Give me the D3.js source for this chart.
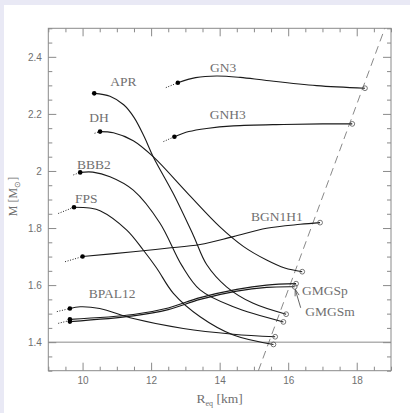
<!DOCTYPE html>
<html>
<head>
<meta charset="utf-8">
<script src="https://cdn.jsdelivr.net/npm/d3@7"></script>
<style>
  html, body { margin: 0; padding: 0; background: #fff; }
  svg { display: block; }
</style>
</head>
<body>
<svg id="chart" width="410" height="413"></svg>
<script>
// Equation-of-state sequences: equatorial radius [km] vs gravitational mass [Msun]
const APR    = [[10.34,2.272],[10.80,2.262],[11.20,2.232],[11.50,2.188],[11.80,2.120],[12.06,2.050],[12.65,1.920],[13.23,1.775],[13.62,1.672],[14.20,1.594],[14.98,1.536],[15.94,1.498]];
const DH     = [[10.51,2.138],[10.90,2.134],[11.48,2.106],[12.06,2.050],[13.04,1.925],[14.00,1.805],[14.70,1.735],[15.37,1.688],[15.90,1.660],[16.41,1.647]];
const BBB2   = [[9.93,1.995],[10.30,1.996],[10.80,1.980],[11.48,1.933],[12.26,1.817],[12.89,1.670],[13.43,1.583],[14.40,1.524],[15.86,1.471]];
const FPS    = [[9.75,1.873],[10.20,1.870],[10.51,1.861],[11.29,1.793],[11.77,1.723],[12.16,1.660],[12.65,1.571],[13.43,1.489],[14.40,1.425],[15.57,1.392]];
const BPAL12 = [[9.63,1.518],[9.93,1.524],[10.50,1.518],[11.48,1.483],[12.94,1.448],[14.40,1.428],[15.62,1.419]];
const GN3    = [[12.78,2.309],[13.30,2.327],[13.91,2.333],[14.60,2.328],[15.37,2.317],[16.83,2.299],[18.24,2.290]];
const GNH3   = [[12.68,2.120],[13.10,2.138],[13.62,2.149],[14.40,2.158],[15.86,2.163],[17.00,2.165],[17.87,2.165]];
const BGN1H1 = [[10.00,1.700],[11.48,1.717],[12.45,1.729],[13.43,1.742],[14.40,1.770],[15.37,1.799],[16.35,1.813],[16.93,1.819]];
const GMGSp  = [[9.63,1.480],[11.48,1.497],[12.50,1.520],[13.43,1.556],[14.50,1.585],[15.37,1.600],[16.23,1.605]];
const GMGSm  = [[9.63,1.472],[11.48,1.492],[12.50,1.514],[13.43,1.550],[14.50,1.579],[15.37,1.592],[16.19,1.594]];

// Short dotted continuations toward the unstable branch: [from, to]
const stubs = [
  [[12.43,2.292],[12.78,2.309]],
  [[12.36,2.103],[12.68,2.120]],
  [[10.35,2.132],[10.51,2.138]],
  [[9.73,1.986],[9.93,1.995]],
  [[9.29,1.851],[9.75,1.873]],
  [[9.49,1.682],[10.00,1.700]],
  [[9.25,1.507],[9.63,1.518]],
  [[9.29,1.466],[9.63,1.476]]
];

const seriesList = [APR, DH, BBB2, FPS, BPAL12, GN3, GNH3, BGN1H1, GMGSp, GMGSm];

// Curve names with the centre of each label's baseline (R, M)
const labelNames = ["APR", "DH", "BBB2", "FPS", "BPAL12", "GN3", "GNH3", "BGN1H1", "GMGSp", "GMGSm"];
const labelPos   = [[11.19,2.298],[10.48,2.173],[10.33,2.007],[10.11,1.887],[10.86,1.556],[14.10,2.348],[14.24,2.181],[15.67,1.826],[17.07,1.564],[17.22,1.492]];

// Mass-shedding limit (dashed) and the 1.4 Msun reference
const sheddingLine = [[15.13,1.30],[18.82,2.50]];
const refMass = 1.4;

const xMajor = [10, 12, 14, 16, 18];
const yMajor = [1.4, 1.6, 1.8, 2.0, 2.2, 2.4];
const yTickLabels = ["1.4", "1.6", "1.8", "2", "2.2", "2.4"];

const svg = d3.select("#chart");
const W = 410, H = 413;
const m = { left: 48.3, right: 391, top: 28.3, bottom: 370.7 };

svg.append("rect").attr("width", W).attr("height", H).attr("fill", "#e9e9f5");
svg.append("rect").attr("x", 4).attr("y", 5).attr("width", W - 4).attr("height", H - 5).attr("fill", "#fff");

const x = d3.scaleLinear().domain([9, 19]).range([m.left, m.right]);
const y = d3.scaleLinear().domain([1.3, 2.5]).range([m.bottom, m.top]);

const axisColor = "#8a8a8a";
const textColor = "#707070";
const xMinor = d3.range(9, 19.001, 0.5).filter(v => xMajor.indexOf(v) < 0);
const yMinor = d3.range(1.3, 2.5001, 0.05).map(v => +v.toFixed(2)).filter(v => !yMajor.some(t => Math.abs(t - v) < 1e-6));

function styleAxis(g) {
  g.select(".domain").remove();
  g.selectAll(".tick line").attr("stroke", axisColor).attr("stroke-width", 1);
  g.selectAll(".tick text").attr("fill", textColor).attr("font-family", "Liberation Sans").attr("font-size", 10);
}

// bottom
svg.append("g").attr("transform", `translate(0,${m.bottom})`)
  .call(d3.axisBottom(x).tickValues(xMajor).tickSize(-8).tickPadding(6.5).tickFormat(d3.format("d"))).call(styleAxis);
svg.append("g").attr("transform", `translate(0,${m.bottom})`)
  .call(d3.axisBottom(x).tickValues(xMinor).tickSize(-4).tickFormat("")).call(styleAxis);
// top
svg.append("g").attr("transform", `translate(0,${m.top})`)
  .call(d3.axisTop(x).tickValues(xMajor).tickSize(-8).tickFormat("")).call(styleAxis);
svg.append("g").attr("transform", `translate(0,${m.top})`)
  .call(d3.axisTop(x).tickValues(xMinor).tickSize(-4).tickFormat("")).call(styleAxis);
// left
svg.append("g").attr("transform", `translate(${m.left},0)`)
  .call(d3.axisLeft(y).tickValues(yMajor).tickSize(-8).tickPadding(6.5).tickFormat((d, i) => yTickLabels[i])).call(styleAxis);
svg.append("g").attr("transform", `translate(${m.left},0)`)
  .call(d3.axisLeft(y).tickValues(yMinor).tickSize(-4).tickFormat("")).call(styleAxis);
// right
svg.append("g").attr("transform", `translate(${m.right},0)`)
  .call(d3.axisRight(y).tickValues(yMajor).tickSize(-8).tickFormat("")).call(styleAxis);
svg.append("g").attr("transform", `translate(${m.right},0)`)
  .call(d3.axisRight(y).tickValues(yMinor).tickSize(-4).tickFormat("")).call(styleAxis);

// frame
svg.append("rect").attr("x", m.left).attr("y", m.top)
  .attr("width", m.right - m.left).attr("height", m.bottom - m.top)
  .attr("fill", "none").attr("stroke", axisColor).attr("stroke-width", 1);

const plot = svg.append("g");

// reference mass line
plot.append("line")
  .attr("x1", x(9)).attr("x2", x(19)).attr("y1", y(refMass)).attr("y2", y(refMass))
  .attr("stroke", "#8a8a8a").attr("stroke-width", 1);

// mass-shedding line
plot.append("line")
  .attr("x1", x(sheddingLine[0][0])).attr("y1", y(sheddingLine[0][1]))
  .attr("x2", x(sheddingLine[1][0])).attr("y2", y(sheddingLine[1][1]))
  .attr("stroke", "#7a7a7a").attr("stroke-width", 0.9).attr("stroke-dasharray", "8,5");

const line = d3.line().x(d => x(d[0])).y(d => y(d[1])).curve(d3.curveCatmullRom.alpha(0.5));

// dotted stubs
plot.selectAll("path.stub").data(stubs).join("path").attr("class", "stub")
  .attr("d", d3.line().x(d => x(d[0])).y(d => y(d[1])))
  .attr("fill", "none").attr("stroke", "#222").attr("stroke-width", 1).attr("stroke-dasharray", "1,1.6");

// sequences
plot.selectAll("path.seq").data(seriesList).join("path").attr("class", "seq")
  .attr("d", line).attr("fill", "none").attr("stroke", "#1a1a1a").attr("stroke-width", 1.1);

// start points (filled)
plot.selectAll("circle.start").data(seriesList).join("circle").attr("class", "start")
  .attr("cx", d => x(d[0][0])).attr("cy", d => y(d[0][1])).attr("r", 2.3).attr("fill", "#000");

// end points (open)
plot.selectAll("circle.end").data(seriesList).join("circle").attr("class", "end")
  .attr("cx", d => x(d[d.length - 1][0])).attr("cy", d => y(d[d.length - 1][1])).attr("r", 2.4)
  .attr("fill", "none").attr("stroke", "#555").attr("stroke-width", 0.8);

// labels
plot.selectAll("text.lab").data(labelNames).join("text").attr("class", "lab")
  .attr("x", (d, i) => x(labelPos[i][0])).attr("y", (d, i) => y(labelPos[i][1]))
  .attr("text-anchor", "middle")
  .attr("font-family", "Liberation Serif").attr("font-size", 13.5).attr("fill", textColor)
  .text(d => d);

// arrow from the GMGSm label up to its end point
const endM = GMGSm[GMGSm.length - 1];
const ax0 = x(endM[0]) + 6, ay0 = y(endM[1]) + 21;
const ax1 = x(endM[0]) + 0.5, ay1 = y(endM[1]) + 2.5;
plot.append("line").attr("x1", ax0).attr("y1", ay0).attr("x2", ax1).attr("y2", ay1)
  .attr("stroke", "#555").attr("stroke-width", 0.9);
const ang = Math.atan2(ay0 - ay1, ax0 - ax1);
[0.3, -0.3].forEach(da => {
  plot.append("line").attr("x1", ax1).attr("y1", ay1)
    .attr("x2", ax1 + 7 * Math.cos(ang + da)).attr("y2", ay1 + 7 * Math.sin(ang + da))
    .attr("stroke", "#555").attr("stroke-width", 0.9);
});

// axis titles
const yt = svg.append("text")
  .attr("transform", `translate(17,${(m.top + m.bottom) / 2 - 3}) rotate(-90)`)
  .attr("text-anchor", "middle").attr("font-family", "Liberation Serif").attr("font-size", 12).attr("fill", textColor);
yt.append("tspan").text("M [M");
yt.append("tspan").attr("font-size", 8).attr("dy", 3).text("⊙");
yt.append("tspan").attr("dy", -3).text("]");

const xt = svg.append("text")
  .attr("x", (m.left + m.right) / 2).attr("y", 403)
  .attr("text-anchor", "middle").attr("font-family", "Liberation Serif").attr("font-size", 13.5).attr("fill", textColor);
xt.append("tspan").text("R");
xt.append("tspan").attr("font-size", 8).attr("dy", 3).text("eq");
xt.append("tspan").attr("dy", -3).text(" [km]");
</script>
</body>
</html>
